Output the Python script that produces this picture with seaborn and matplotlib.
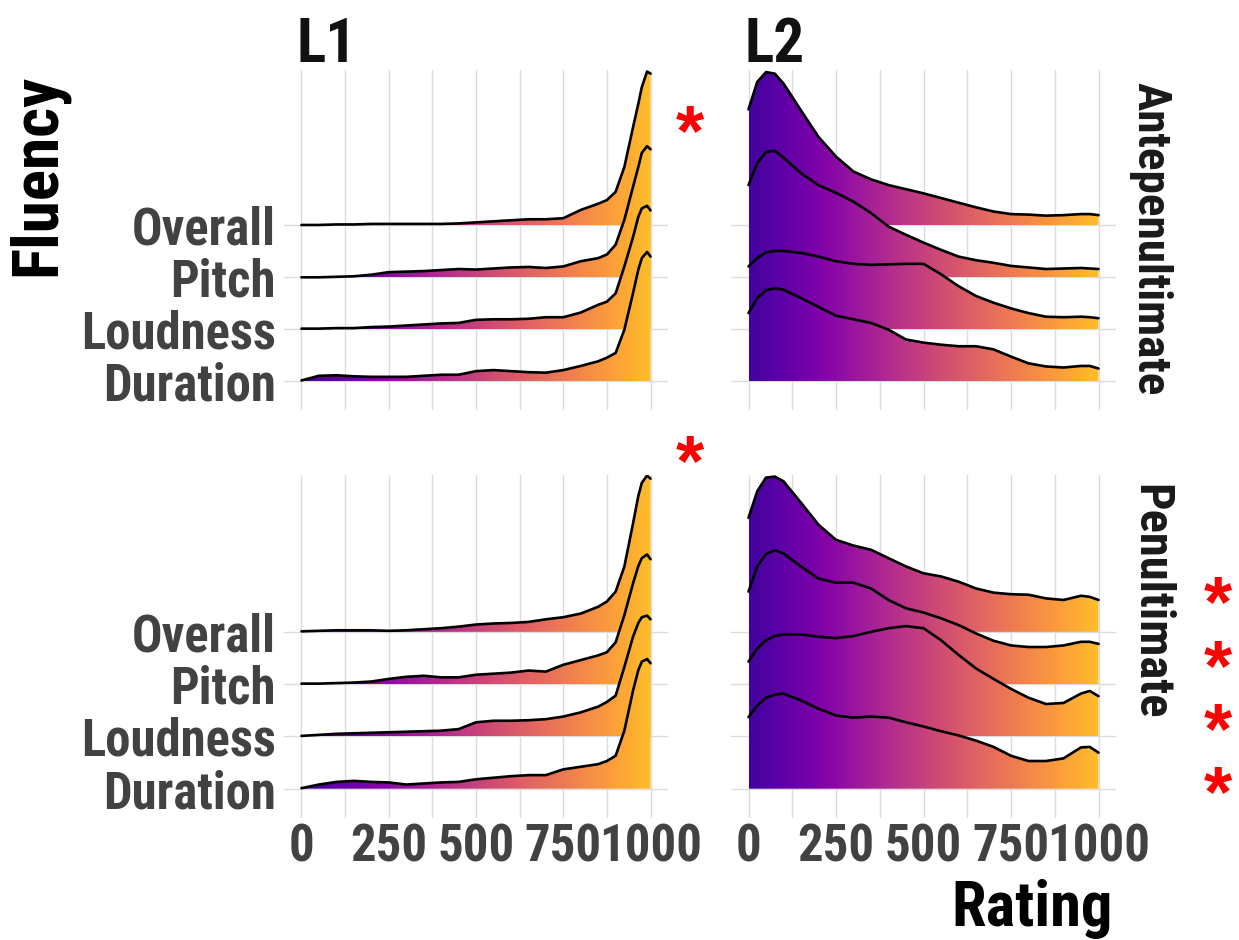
import numpy as np
import pandas as pd
import matplotlib
matplotlib.use("Agg")
import matplotlib.pyplot as plt
import seaborn as sns
from matplotlib import font_manager
from matplotlib.colors import LinearSegmentedColormap
from matplotlib.patches import Polygon

# --- Setup ---
sns.set_theme(style="whitegrid")


def pick_font(names):
    for n in names:
        try:
            font_manager.findfont(font_manager.FontProperties(family=n), fallback_to_default=False)
            return n
        except Exception:
            pass
    return "DejaVu Sans"


NARROW = pick_font(["Liberation Sans Narrow", "Roboto Condensed", "Liberation Sans"])
WIDE = pick_font(["Liberation Sans", "DejaVu Sans"])
plt.rcParams["font.family"] = [NARROW, "DejaVu Sans"]
print("font:", NARROW)

# --- Data (ridge heights, in units of one row) ---
fluency = ["Duration", "Loudness", "Pitch", "Overall"]   # bottom -> top
positions = ["Antepenultimate", "Penultimate"]
groups = ["L1", "L2"]
x_ticks = [0, 250, 500, 750, 1000]

x_l1 = [0, 50, 100, 150, 200, 250, 300, 350, 400, 450, 500, 550, 600, 650, 700,
        750, 800, 850, 875, 900, 925, 950, 965, 975, 990, 1000]
x_l2 = [0, 25, 50, 75, 100, 150, 200, 250, 300, 350, 400, 450, 500, 550, 600, 650,
        700, 750, 800, 850, 900, 950, 975, 1000]

# L1, antepenultimate
l1_ante_overall = [0.01, 0.01, 0.02, 0.02, 0.03, 0.03, 0.03, 0.03, 0.03, 0.04, 0.06, 0.08, 0.10, 0.12, 0.12,
                   0.14, 0.30, 0.42, 0.49, 0.65, 1.13, 1.90, 2.35, 2.67, 2.97, 2.93]
l1_ante_pitch = [0.00, 0.00, 0.01, 0.02, 0.05, 0.10, 0.11, 0.12, 0.14, 0.16, 0.15, 0.17, 0.19, 0.20, 0.18,
                 0.21, 0.31, 0.37, 0.44, 0.63, 1.11, 1.75, 2.13, 2.40, 2.53, 2.47]
l1_ante_loudness = [0.01, 0.01, 0.02, 0.02, 0.04, 0.05, 0.07, 0.09, 0.11, 0.12, 0.18, 0.19, 0.19, 0.20, 0.23,
                    0.23, 0.32, 0.47, 0.53, 0.69, 1.21, 1.78, 2.17, 2.33, 2.38, 2.29]
l1_ante_duration = [0.01, 0.10, 0.11, 0.09, 0.08, 0.08, 0.08, 0.10, 0.12, 0.12, 0.19, 0.21, 0.19, 0.17, 0.16,
                    0.21, 0.29, 0.38, 0.45, 0.54, 0.99, 1.70, 2.15, 2.37, 2.49, 2.40]

# L1, penultimate
l1_pen_overall = [0.01, 0.02, 0.03, 0.03, 0.03, 0.02, 0.03, 0.05, 0.07, 0.10, 0.14, 0.16, 0.17, 0.19, 0.24,
                  0.28, 0.35, 0.48, 0.58, 0.77, 1.25, 2.08, 2.60, 2.85, 2.99, 2.93]
l1_pen_pitch = [0.01, 0.01, 0.02, 0.03, 0.05, 0.10, 0.14, 0.16, 0.13, 0.13, 0.18, 0.20, 0.22, 0.26, 0.24,
                0.37, 0.46, 0.55, 0.61, 0.80, 1.32, 1.93, 2.26, 2.41, 2.48, 2.39]
l1_pen_loudness = [0.01, 0.03, 0.05, 0.06, 0.07, 0.08, 0.09, 0.10, 0.11, 0.14, 0.27, 0.30, 0.30, 0.31, 0.33,
                   0.38, 0.46, 0.57, 0.66, 0.78, 1.33, 1.91, 2.17, 2.28, 2.31, 2.24]
l1_pen_duration = [0.01, 0.08, 0.13, 0.15, 0.13, 0.12, 0.08, 0.10, 0.12, 0.13, 0.18, 0.21, 0.24, 0.26, 0.26,
                   0.37, 0.42, 0.47, 0.53, 0.63, 1.11, 1.88, 2.27, 2.43, 2.48, 2.40]

# L2, antepenultimate
l2_ante_overall = [2.24, 2.77, 2.96, 2.93, 2.74, 2.22, 1.71, 1.33, 1.04, 0.89, 0.78, 0.70, 0.62, 0.53, 0.44,
                   0.35, 0.27, 0.22, 0.21, 0.19, 0.20, 0.22, 0.22, 0.20]
l2_ante_pitch = [1.78, 2.20, 2.42, 2.44, 2.31, 2.01, 1.78, 1.63, 1.46, 1.24, 0.98, 0.82, 0.67, 0.53, 0.40,
                 0.33, 0.28, 0.22, 0.19, 0.16, 0.17, 0.18, 0.17, 0.16]
l2_ante_loudness = [1.21, 1.37, 1.48, 1.51, 1.51, 1.47, 1.40, 1.31, 1.26, 1.24, 1.25, 1.26, 1.26, 1.06, 0.83,
                    0.64, 0.51, 0.40, 0.31, 0.24, 0.23, 0.24, 0.23, 0.21]
l2_ante_duration = [1.31, 1.60, 1.75, 1.79, 1.76, 1.60, 1.43, 1.26, 1.19, 1.12, 0.99, 0.80, 0.74, 0.70, 0.67,
                    0.67, 0.61, 0.47, 0.34, 0.28, 0.26, 0.29, 0.29, 0.24]

# L2, penultimate
l2_pen_overall = [2.18, 2.69, 2.95, 2.97, 2.88, 2.47, 2.05, 1.76, 1.65, 1.57, 1.41, 1.25, 1.12, 1.06, 0.96,
                  0.83, 0.75, 0.72, 0.71, 0.64, 0.61, 0.69, 0.67, 0.61]
l2_pen_pitch = [1.77, 2.25, 2.49, 2.56, 2.50, 2.25, 2.02, 1.94, 1.94, 1.83, 1.61, 1.45, 1.37, 1.26, 1.13,
                0.97, 0.83, 0.74, 0.71, 0.71, 0.74, 0.81, 0.81, 0.77]
l2_pen_loudness = [1.43, 1.68, 1.84, 1.92, 1.95, 1.95, 1.91, 1.88, 1.92, 2.00, 2.07, 2.11, 2.07, 1.84, 1.56,
                   1.30, 1.10, 0.91, 0.74, 0.62, 0.64, 0.82, 0.87, 0.77]
l2_pen_duration = [1.37, 1.59, 1.74, 1.80, 1.82, 1.69, 1.53, 1.40, 1.36, 1.38, 1.36, 1.27, 1.19, 1.10, 1.02,
                   0.92, 0.80, 0.63, 0.53, 0.53, 0.58, 0.79, 0.80, 0.69]

# significance stars: one per L1 panel (between columns), four for the L2 penultimate rows
stars_mid = [(690, 122), (690, 452)]
stars_right_last = (1218, 783)   # lowest star of the right-hand stack
n_right = 4

panels = {
    ("Antepenultimate", "L1"): (x_l1, [l1_ante_duration, l1_ante_loudness, l1_ante_pitch, l1_ante_overall]),
    ("Antepenultimate", "L2"): (x_l2, [l2_ante_duration, l2_ante_loudness, l2_ante_pitch, l2_ante_overall]),
    ("Penultimate", "L1"): (x_l1, [l1_pen_duration, l1_pen_loudness, l1_pen_pitch, l1_pen_overall]),
    ("Penultimate", "L2"): (x_l2, [l2_pen_duration, l2_pen_loudness, l2_pen_pitch, l2_pen_overall]),
}

# --- Figure ---
W, H = 1239, 940
fig = plt.figure(figsize=(W / 100, H / 100), dpi=100, facecolor="white")

plasma = plt.get_cmap("plasma")
cmap = LinearSegmentedColormap.from_list("plasma_cut", plasma(np.linspace(0.1, 0.86, 256)))
grad = np.linspace(0, 1, 512).reshape(1, -1)

col_x = {"L1": (284, 668), "L2": (731, 1116)}
row_y = {"Antepenultimate": (70, 410), "Penultimate": (475, 818)}
grid_c = "#dcdcdc"
tick_c = "#424242"


def ridge_panel(ax, xs, heights):
    xs = np.asarray(xs, float)
    rows = []
    for i in range(len(fluency) - 1, -1, -1):   # top ridge first
        base = i + 1
        top = base + np.asarray(heights[i], float)
        verts = np.column_stack([np.r_[xs, xs[::-1]], np.r_[top, np.full(len(xs), base)]])
        poly = Polygon(verts, closed=True, facecolor="none", edgecolor="none")
        ax.add_patch(poly)
        im = ax.imshow(grad, extent=(0, 1000, base, top.max()), cmap=cmap, aspect="auto",
                       origin="lower", zorder=2, interpolation="bilinear")
        im.set_clip_path(poly)
        rows.append(pd.DataFrame({"Rating": xs, "y": top, "Fluency": fluency[i]}))
    df = pd.concat(rows, ignore_index=True)
    sns.lineplot(data=df, x="Rating", y="y", units="Fluency", estimator=None, sort=False,
                 color="black", lw=1.9, legend=False, ax=ax, zorder=5)
    for ln in ax.get_lines():
        ln.set_solid_joinstyle("round")


for pos in positions:
    for g in groups:
        x0, x1 = col_x[g]
        y0, y1 = row_y[pos]
        ax = fig.add_axes([x0 / W, 1 - y1 / H, (x1 - x0) / W, (y1 - y0) / H])
        ax.set_facecolor("white")
        xs, heights = panels[(pos, g)]
        ridge_panel(ax, xs, heights)

        ax.set_xlim(-50, 1050)
        ax.set_ylim(0.44, 7.0)
        ax.set_xticks(x_ticks)
        ax.set_xticks([125, 375, 625, 875], minor=True)
        ax.set_yticks([1, 2, 3, 4])
        ax.grid(False)
        ax.grid(True, which="both", axis="x", color=grid_c, lw=1.0, zorder=0)
        ax.grid(True, which="major", axis="y", color=grid_c, lw=1.0, zorder=0)
        ax.set_axisbelow(True)
        for s in ax.spines.values():
            s.set_visible(False)
        ax.tick_params(which="both", length=0)
        ax.set_xlabel("")
        ax.set_ylabel("")

        if g == "L1":
            ax.set_yticklabels(fluency, fontsize=36.5, fontweight="bold", color=tick_c)
            ax.tick_params(axis="y", pad=6)
        else:
            ax.set_yticklabels([])
        if pos == "Penultimate":
            ax.set_xticklabels([str(v) for v in x_ticks], fontsize=36.5, fontweight="bold", color=tick_c)
            ax.tick_params(axis="x", pad=3)
        else:
            ax.set_xticklabels([])

# column titles
fig.text(297 / W, 1 - 62 / H, "L1", fontsize=44, fontweight="bold", color="#111111", va="baseline", ha="left")
fig.text(745 / W, 1 - 62 / H, "L2", fontsize=44, fontweight="bold", color="#111111", va="baseline", ha="left")

# axis titles
fig.text(38 / W, 1 - 74 / H, "Fluency", fontsize=47, fontweight="bold", color="black",
         rotation=90, va="top", ha="center")
fig.text(1113 / W, 1 - 926 / H, "Rating", fontsize=45, fontweight="bold", color="black",
         va="baseline", ha="right")

# facet strips (right side)
fig.text(1150 / W, 1 - 82 / H, "Antepenultimate", fontsize=34, fontweight="bold", color="#1a1a1a",
         rotation=-90, va="top", ha="center")
fig.text(1150 / W, 1 - 484 / H, "Penultimate", fontsize=35, fontweight="bold", color="#1a1a1a",
         rotation=-90, va="top", ha="center")

# significance asterisks
star_kw = dict(fontsize=52, fontweight="bold", color="red", ha="center", va="baseline",
               family=[WIDE, "DejaVu Sans"])
for sx, sy in stars_mid:
    fig.text(sx / W, 1 - (sy + 33) / H, "*", **star_kw)
sx, sy = stars_right_last
fig.text(sx / W, 1 - (sy + 33) / H, "\n".join(["*"] * n_right), linespacing=0.91, **star_kw)

plt.savefig("out.png", dpi=100, facecolor="white")
plt.close()
print("saved")
